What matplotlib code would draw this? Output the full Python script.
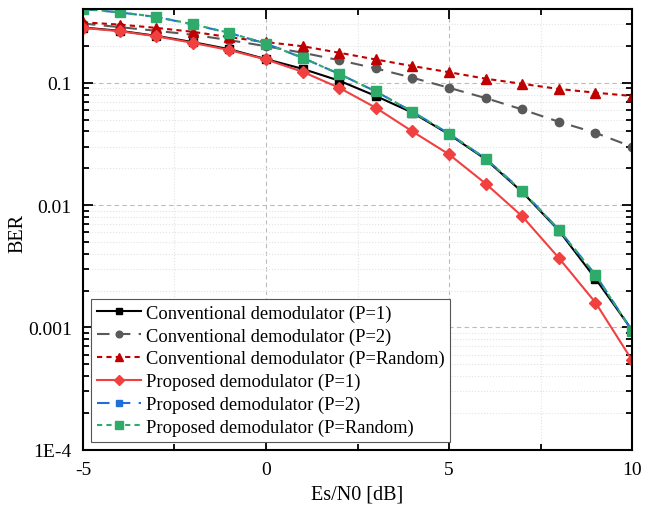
import numpy as np
import matplotlib
matplotlib.use('Agg')
from matplotlib import pyplot as plt
from matplotlib.ticker import LogLocator, FixedLocator, NullFormatter

plt.rcParams['font.family'] = ['Liberation Serif', 'DejaVu Serif']
plt.rcParams['axes.unicode_minus'] = False

#data
snr = [-5, -4, -3, -2, -1, 0, 1, 2, 3, 4, 5, 6, 7, 8, 9, 10]
conv_p1 = [0.283, 0.266, 0.242, 0.215, 0.188, 0.156, 0.130, 0.104, 0.078, 0.057, 0.0379, 0.0237, 0.0128, 0.0062, 0.00251, 0.00095]
conv_p2 = [0.305, 0.285, 0.266, 0.247, 0.223, 0.199, 0.176, 0.153, 0.131, 0.110, 0.091, 0.075, 0.0605, 0.048, 0.039, 0.030]
conv_pr = [0.312, 0.299, 0.281, 0.261, 0.236, 0.215, 0.199, 0.176, 0.155, 0.137, 0.122, 0.108, 0.098, 0.089, 0.083, 0.078]
prop_p1 = [0.281, 0.264, 0.240, 0.212, 0.185, 0.155, 0.123, 0.091, 0.0625, 0.040, 0.026, 0.0150, 0.0081, 0.0037, 0.0016, 0.00054]
prop_p2 = [0.400, 0.376, 0.345, 0.300, 0.255, 0.209, 0.160, 0.118, 0.085, 0.058, 0.0384, 0.0240, 0.0131, 0.0063, 0.0027, 0.00094]
prop_pr = [0.402, 0.377, 0.346, 0.301, 0.256, 0.209, 0.160, 0.118, 0.085, 0.058, 0.0384, 0.0240, 0.0130, 0.0063, 0.00269, 0.00094]

labels = ['Conventional demodulator (P=1)', 'Conventional demodulator (P=2)',
          'Conventional demodulator (P=Random)', 'Proposed demodulator (P=1)',
          'Proposed demodulator (P=2)', 'Proposed demodulator (P=Random)']

fig = plt.figure(figsize=(6.56, 5.06), dpi=100)
ax = fig.add_axes([0.1265, 0.109, 0.837, 0.871])

ax.plot(snr, conv_p1, color='black', ls='-', lw=1.5, marker='s', ms=5.5, label=labels[0])
ax.plot(snr, conv_p2, color='#595959', ls=(0, (6, 4)), lw=1.5, marker='o', ms=6, label=labels[1])
ax.plot(snr, conv_pr, color='#C00000', ls=(0, (2.5, 2)), lw=1.5, marker='^', ms=7, label=labels[2])
ax.plot(snr, prop_p1, color='#F04040', ls='-', lw=1.5, marker='D', ms=6, label=labels[3])
ax.plot(snr, prop_p2, color='#1F6FD6', ls=(0, (6, 4)), lw=1.5, marker='s', ms=6, label=labels[4])
ax.plot(snr, prop_pr, color='#2EAA6A', ls=(0, (2.5, 2)), lw=1.5, marker='s', ms=6.5, label=labels[5])

ax.set_yscale('log')
ax.set_xlim(-5, 10)
ax.set_ylim(1e-4, 0.4)

ax.set_xticks([-5, 0, 5, 10])
ax.xaxis.set_minor_locator(FixedLocator([-2.5, 2.5, 7.5]))
ax.set_yticks([1e-4, 1e-3, 1e-2, 1e-1])
ax.set_yticklabels(['1E-4', '0.001', '0.01', '0.1'])
ax.yaxis.set_minor_locator(LogLocator(base=10, subs=np.arange(2, 10)))
ax.yaxis.set_minor_formatter(NullFormatter())

ax.tick_params(which='both', direction='in', top=True, right=True, labelsize=14, width=1.3)
ax.tick_params(which='major', length=7, pad=8)
ax.tick_params(which='minor', length=4)
for s in ax.spines.values():
    s.set_linewidth(1.5)

ax.grid(which='major', color='#BBBBBB', ls=(0, (4, 3)), lw=0.8)
ax.grid(which='minor', color='#E3E3E3', ls=':', lw=0.8)

ax.set_xlabel('Es/N0 [dB]', fontsize=14.5, labelpad=5)
ax.set_ylabel('BER', fontsize=14.5)
ax.yaxis.set_label_coords(-0.102, 0.493)

leg = ax.legend(loc='lower left', bbox_to_anchor=(0.0, 0.0), fontsize=13.3, handlelength=2.4,
                handletextpad=0.25, labelspacing=0.3, borderpad=0.3, markerscale=0.8,
                borderaxespad=0.45, fancybox=False, framealpha=1, edgecolor='#555555')
leg.get_frame().set_linewidth(0.8)

plt.savefig('out.png', dpi=100)
